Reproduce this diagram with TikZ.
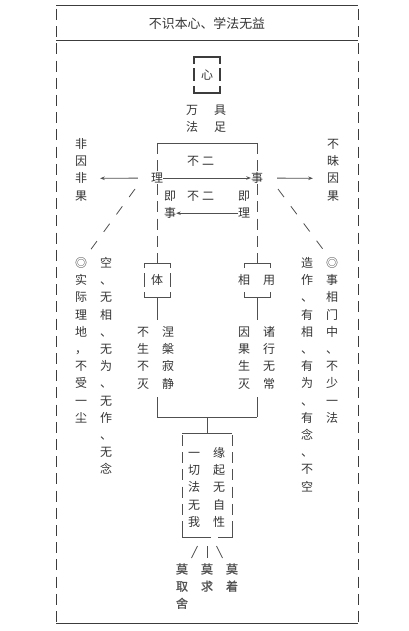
\documentclass[tikz,border=0pt]{standalone}
\usepackage{fontspec}
\newfontfamily\cjk{Noto Sans CJK SC}
\newfontfamily\cjkb[FakeBold=1.2]{Noto Sans CJK SC}
\usetikzlibrary{arrows.meta}
\definecolor{txt}{HTML}{353535}
\definecolor{lin}{HTML}{505050}
\definecolor{frm}{HTML}{3C3C3C}
\newcommand\vcol[5][ch]{\foreach \vchar [count=\i from 0] in {#5} {\node[#1] (#2-\i) at (#3,{#4+17.2*\i}) {\vchar};}}
\tikzset{
  ch/.style={font=\cjk\fontsize{12}{14}\selectfont, inner sep=0pt, text height=10.56pt, text depth=1.44pt, text=txt},
  chb/.style={ch, font=\cjkb\fontsize{12}{14}\selectfont, text=txt!85},
  titlebox/.style={font=\cjk\fontsize{12.9}{15}\selectfont, inner sep=0pt, text=txt},
  ln/.style={draw=lin, line width=0.8pt},
  hl/.style={draw=frm, line width=1pt},
  vd/.style={ln, dash pattern=on 11pt off 6.2pt},
  dd/.style={ln, dash pattern=on 10pt off 11.5pt},
  heavy/.style={draw=frm, line width=1.8pt},
  arr/.style={ln, -{Stealth[length=4.5pt,width=3.5pt]}}
}
\begin{document}
\begin{tikzpicture}[x=1pt,y=-1pt]
\useasboundingbox (0,0) rectangle (408,631);
\fill[white] (0,0) rectangle (408,631);
% frame
\coordinate (ftl) at (56,6); \coordinate (ftr) at (358,6);
\coordinate (fml) at (56,41); \coordinate (fmr) at (358,41);
\coordinate (fbl) at (56,623); \coordinate (fbr) at (358,623);
\draw[hl] (ftl) -- (ftr);
\draw[hl] (fml) -- (fmr);
\draw[hl] (fbl) -- (fbr);
\draw[vd, draw=frm, dash phase=-3pt] (ftl) -- (fbl);
\draw[vd, draw=frm, dash phase=-3pt] (ftr) -- (fbr);
\node[titlebox] (title) at (207,24) {不识本心、学法无益};
% heart box
\node[ch] (xin) at (207,75) {心};
\draw[heavy] (194,64) -- (194,57) -- (220,57) -- (220,64);
\draw[heavy] (194,68.5) -- (194,81.5);
\draw[heavy] (220,68.5) -- (220,81.5);
\draw[heavy] (194,86) -- (194,93) -- (220,93) -- (220,86);
% wan fa ju zu
\node[ch] (wan) at (192,110) {万};
\node[ch] (ju) at (220,110) {具};
\node[ch] (fa) at (192,127) {法};
\node[ch] (zu) at (220,127) {足};
% big bracket
\coordinate (bl) at (157,143); \coordinate (br) at (257,143);
\draw[ln] (bl) -- (br);
\node[ch] (li) at (157,178) {理};
\node[ch] (shi) at (257,178) {事};
\node[ch] (bu1) at (193,161) {不};
\node[ch] (er1) at (208,161) {二};
\node[ch] (bu2) at (193,196) {不};
\node[ch] (er2) at (208,196) {二};
\vcol{jishi}{170}{196}{即,事}
\vcol{jili}{244}{196}{即,理}
\vcol{fy}{81}{144}{非,因,非,果}
\vcol{bm}{333}{144}{不,昧,因,果}
% ti box and xiang-yong box
\node[ch] (ti) at (157,280) {体};
\node[ch] (xiang) at (244,280) {相};
\node[ch] (yong) at (269,280) {用};
\coordinate (tit) at (157,263); \coordinate (xyt) at (257,263);
\draw[vd] (bl) -- (li.north);
\draw[vd] (li.south) -- (tit);
\draw[vd] (br) -- (shi.north);
\draw[vd] (shi.south) -- (xyt);
\draw[ln] (144,268) -- (144,263) -- (170,263) -- (170,268);
\draw[ln] (144,273) -- (144,287);
\draw[ln] (170,273) -- (170,287);
\draw[ln] (144,292) -- (144,297) -- (170,297) -- (170,292);
\draw[ln] (244,268) -- (244,263) -- (270,263) -- (270,268);
\draw[ln] (244,292) -- (244,297) -- (270,297) -- (270,292);
% arrows
\draw[arr] (li) -- (shi);
\draw[arr] (jili-1) -- (jishi-1);
\draw[arr, shorten <=13pt, shorten >=13pt] (li) -- (fy-2);
\draw[arr, shorten <=14pt, shorten >=14pt] (shi) -- (bm-2);
% diagonals
\coordinate (dl1) at (135,189); \coordinate (dl2) at (89,252);
\coordinate (dr1) at (278,189); \coordinate (dr2) at (325,252);
\draw[dd] (dl1) -- (dl2);
\draw[dd] (dr1) -- (dr2);
% long columns
\vcol{sj}{81}{263}{◎,实,际,理,地,，,不,受,一,尘}
\vcol{kong}{106}{263}{空,、,无,相,、,无,为,、,无,作,、,无,念}
\vcol{zz}{307}{263}{造,作,、,有,相,、,有,为,、,有,念,、,不,空}
\vcol{sx}{332}{263}{◎,事,相,门,中,、,不,少,一,法}
\vcol{bs}{143}{332}{不,生,不,灭}
\vcol{np}{168}{332}{涅,槃,寂,静}
\vcol{yg}{244}{332}{因,果,生,灭}
\vcol{zx}{269}{332}{诸,行,无,常}
% lower bracket
\coordinate (tib) at (157,297); \coordinate (xyb) at (257,297);
\coordinate (lbl) at (157,417); \coordinate (lbr) at (257,417);
\coordinate (lbm) at (207,417); \coordinate (yqt) at (207,433);
\draw[ln] (tib) -- (157,320);
\draw[ln] (157,397) -- (lbl);
\draw[ln] (xyb) -- (257,320);
\draw[ln] (257,397) -- (lbr);
\draw[ln] (lbl) -- (lbr);
\draw[ln] (lbm) -- (yqt);
% yuanqi box
\draw[ln] (182,433) -- (232,433);
\draw[vd, dash phase=-2pt] (182,433) -- (182,537);
\draw[vd, dash phase=-2pt] (232,433) -- (232,537);
\draw[ln] (182,530) -- (182,537) -- (211,537);
\draw[ln] (218,537) -- (232,537) -- (232,530);
\vcol{yq}{194}{453}{一,切,法,无,我}
\vcol{yz}{219}{453}{缘,起,无,自,性}
% slashes
\draw[ln] (197.5,546) -- (191.5,558);
\draw[ln] (207,546) -- (207,558);
\draw[ln] (216.5,546) -- (222.5,558);
\vcol[chb]{mq}{182}{569}{莫,取,舍}
\vcol[chb]{mqiu}{207}{569}{莫,求}
\vcol[chb]{mz}{232}{569}{莫,着}
\end{tikzpicture}
\end{document}
